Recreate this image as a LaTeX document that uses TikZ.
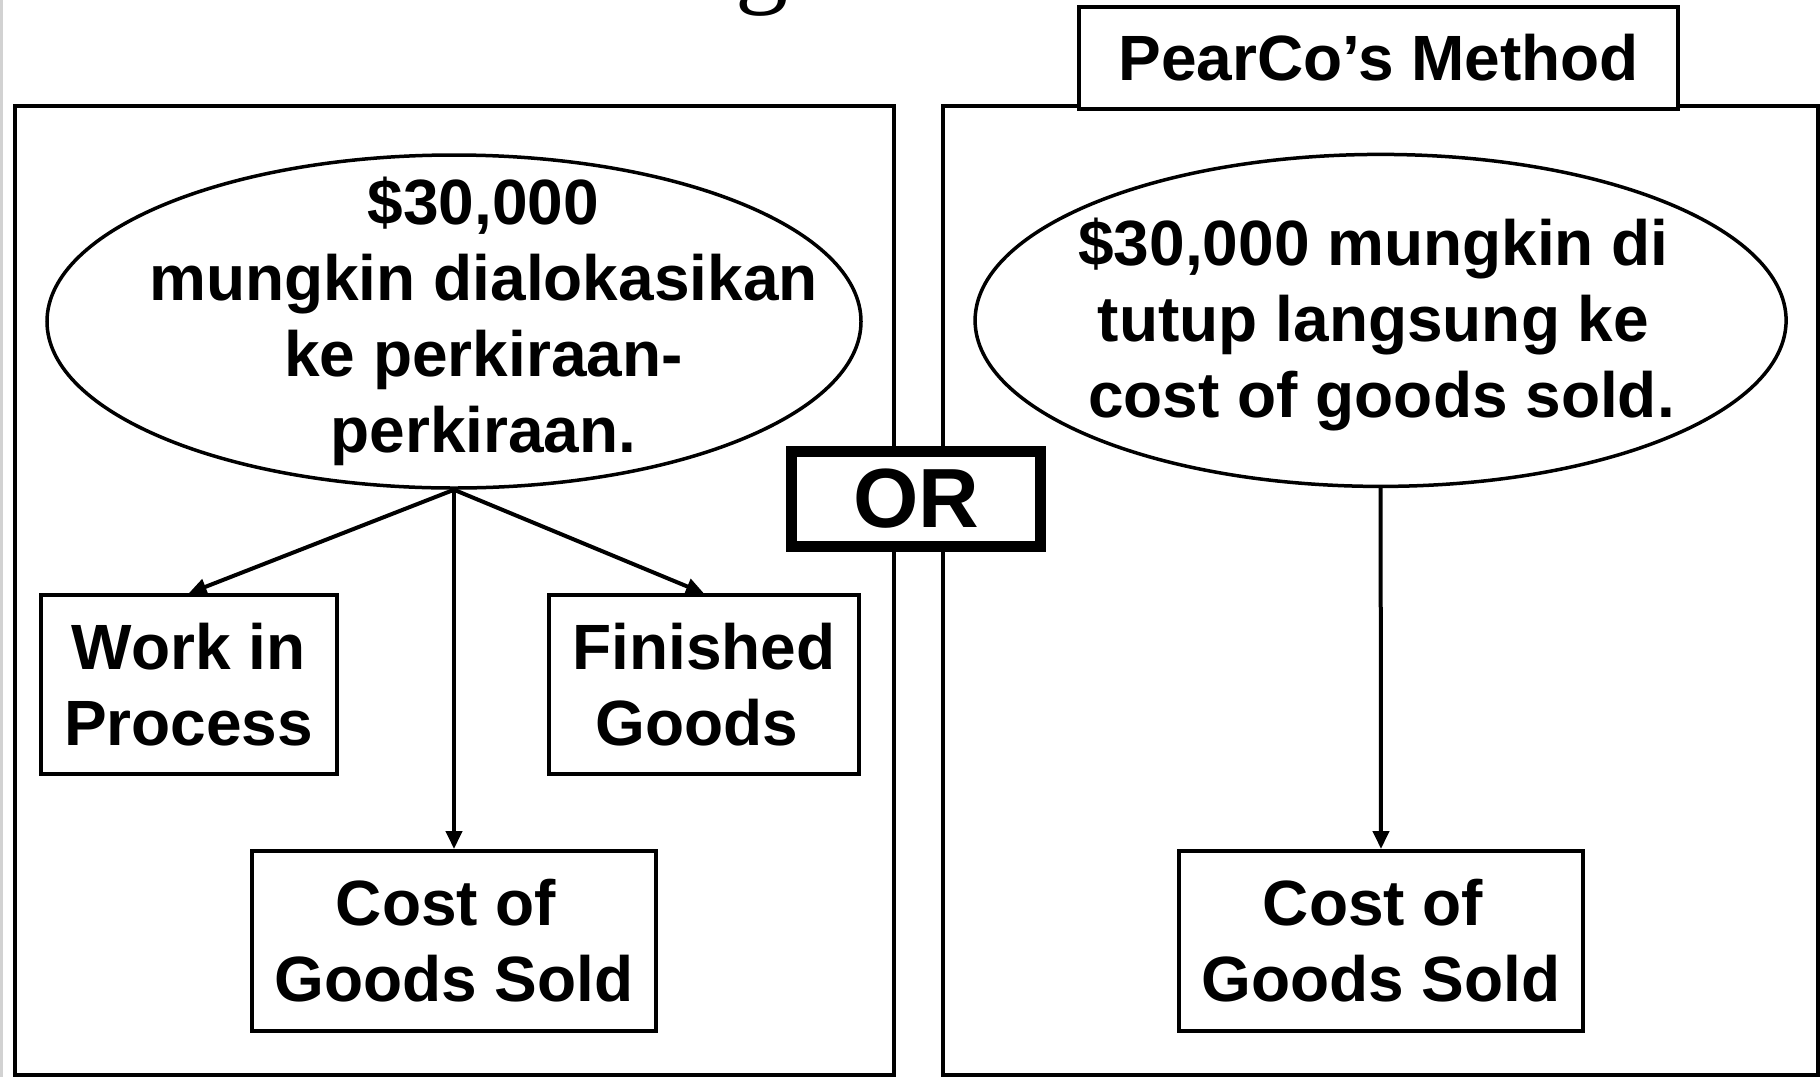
\documentclass[tikz,border=0pt]{standalone}
\usepackage{fontspec}
\setmainfont{Liberation Sans}
\newfontfamily\titleserif{Liberation Serif}
\usetikzlibrary{arrows.meta,shapes.geometric}

\begin{document}
\begin{tikzpicture}[x=1pt,y=-1pt,
  bigtxt/.style={font=\bfseries\fontsize{64}{76}\selectfont, align=center, inner sep=0pt},
  freetxt/.style={bigtxt, anchor=base},
  acct/.style={draw, line width=4pt, fill=white, bigtxt},
  oval/.style={draw, ellipse, line width=3.5pt, inner sep=0pt, fill=white},
  link/.style={line width=4pt, -{Triangle[length=18pt,width=16pt]}},
  panel/.style={draw, line width=4pt}]

\useasboundingbox (0,0) rectangle (1820,1077);
\fill[white] (0,0) rectangle (1820,1077);

% faint edge strip and the foot of the heading above
\draw[gray!35, line width=3pt] (1.5,0) -- (1.5,1077);
\node[font=\titleserif\fontsize{106}{106}\selectfont, anchor=base, inner sep=0pt] (ttl) at (762,-7) {g};

% the two panels
\draw[panel] (15,105.6) rectangle (894,1075);
\draw[panel] (942.5,105.6) rectangle (1818,1075);

% panel heading
\node[acct, minimum width=598.5pt, minimum height=102pt] (method) at (1378.7,58) {PearCo’s Method};

% left panel: allocation
\node[oval, minimum width=814pt, minimum height=333pt] (alloc) at (454,321.5) {};
\node[freetxt] (alloctxt) at (483.5,452) {\$30,000\\mungkin dialokasikan\\ke perkiraan-\\perkiraan.};

\node[acct, minimum width=296pt, minimum height=178.8pt] (wip) at (188.6,684.8) {Work in\\Process};
\node[acct, minimum width=310pt, minimum height=178.8pt] (fg) at (704,684.8) {Finished\\Goods\hspace*{14pt}};
\node[acct, minimum width=404pt, minimum height=180pt] (cogsA) at (454,941) {Cost of\hspace*{16pt}\\Goods Sold};

\draw[link] (alloc.south) -- (wip.north);
\draw[link] (alloc.south) -- (fg.north);
\draw[link] (alloc.south) -- (cogsA.north);

% right panel: close directly
\node[oval, minimum width=811pt, minimum height=332pt] (close) at (1380.6,320.4) {};
\node[freetxt] (closetxt) at (1373.5,417.9) {\$30,000 mungkin di\\tutup langsung ke\\\hspace*{16pt}cost of goods sold.};

\node[acct, minimum width=404pt, minimum height=180pt] (cogsB) at (1381,941) {Cost of\hspace*{16pt}\\Goods Sold};
\draw[link] (close.south) -- (cogsB.north);

% the choice between the panels
\node[draw, line width=11pt, fill=white, minimum width=249pt, minimum height=95pt,
      font=\bfseries\fontsize{84}{84}\selectfont, inner sep=0pt] (or) at (916,499) {OR};

\end{tikzpicture}
\end{document}
